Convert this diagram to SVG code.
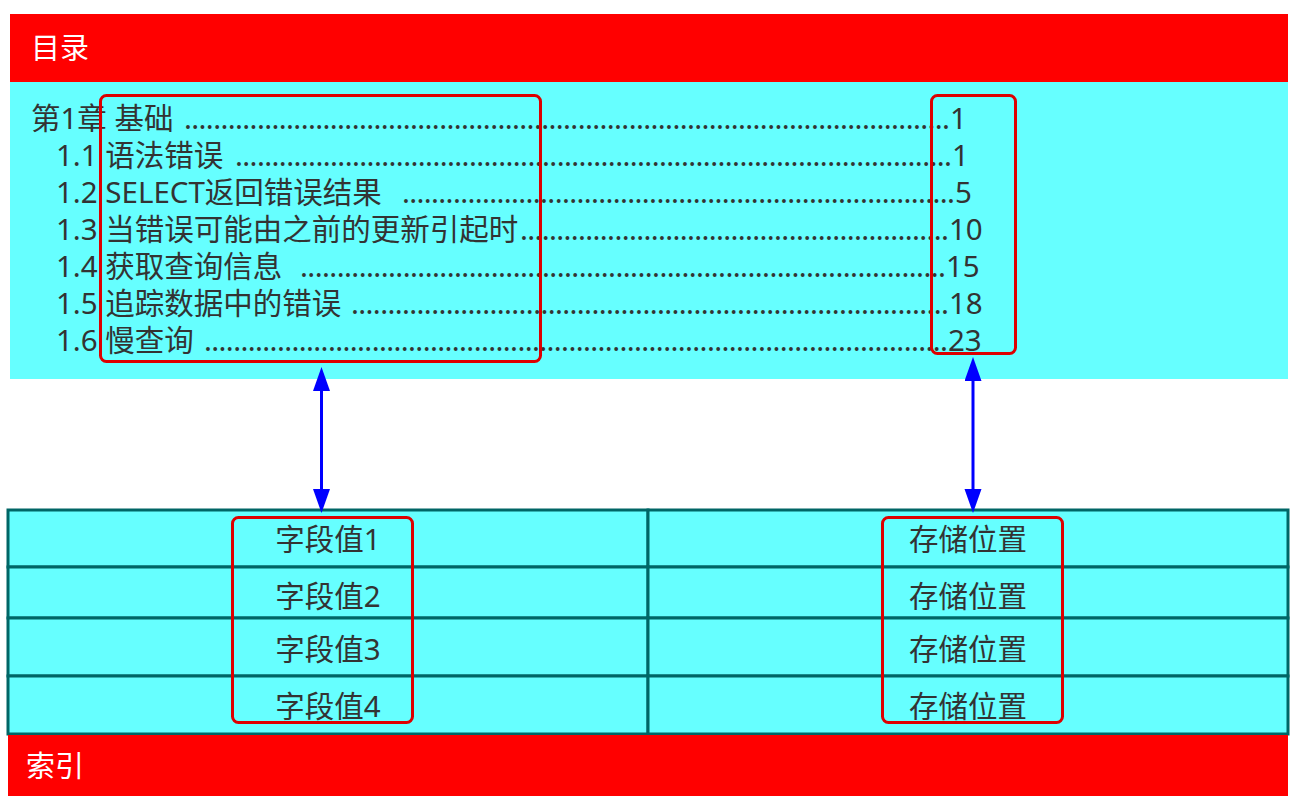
<svg xmlns="http://www.w3.org/2000/svg" width="1296" height="812" viewBox="0 0 1296 812">
<defs>
<style>
.bar{fill:#ff0000}
.panel{fill:#66ffff}
.hd{font-family:"Noto Sans","Noto Sans CJK SC",sans-serif;font-size:29px;fill:#ffffff}
.toc{font-family:"Noto Sans","Noto Sans CJK SC",sans-serif;font-size:29.5px;fill:#333333}
.cell{fill:#66ffff;stroke:#006666;stroke-width:3}
.ct{font-family:"Noto Sans","Noto Sans CJK SC",sans-serif;font-size:29.5px;fill:#333333;text-anchor:middle}
.hl{fill:none;stroke:#dd0000;stroke-width:3}
.arr{stroke:#0000ff;stroke-width:3;fill:none;marker-start:url(#ah);marker-end:url(#ah)}
</style>
<marker id="ah" markerUnits="userSpaceOnUse" markerWidth="26" markerHeight="18" viewBox="0 0 26 18" refX="4" refY="8.5" orient="auto-start-reverse">
<path d="M0,0 L24,8.5 L0,17 z" fill="#0000ff"/>
</marker>
</defs>

<g id="toc-header">
<rect class="bar" x="10" y="14" width="1278" height="68"/>
<text class="hd" x="31" y="59">目录</text>
</g>

<g id="toc-panel">
<rect class="panel" x="10" y="82" width="1278" height="297"/>
<text class="toc" x="31" y="129" xml:space="preserve">第1章 基础</text>
<text class="toc" x="184" y="129" textLength="766" lengthAdjust="spacing">.........................................................................................................</text>
<text class="toc" x="950" y="129">1</text>

<text class="toc" x="56" y="166" xml:space="preserve">1.1 语法错误</text>
<text class="toc" x="235" y="166" textLength="717" lengthAdjust="spacing">..................................................................................................</text>
<text class="toc" x="952" y="166">1</text>

<text class="toc" x="56" y="203" xml:space="preserve">1.2 SELECT返回错误结果</text>
<text class="toc" x="402" y="203" textLength="553" lengthAdjust="spacing">............................................................................</text>
<text class="toc" x="955" y="203">5</text>

<text class="toc" x="56" y="240" xml:space="preserve">1.3 当错误可能由之前的更新引起时</text>
<text class="toc" x="520" y="240" textLength="429" lengthAdjust="spacing">...........................................................</text>
<text class="toc" x="949" y="240">10</text>

<text class="toc" x="56" y="277" xml:space="preserve">1.4 获取查询信息</text>
<text class="toc" x="300" y="277" textLength="646" lengthAdjust="spacing">........................................................................................</text>
<text class="toc" x="946" y="277">15</text>

<text class="toc" x="56" y="314" xml:space="preserve">1.5 追踪数据中的错误</text>
<text class="toc" x="351" y="314" textLength="598" lengthAdjust="spacing">..................................................................................</text>
<text class="toc" x="949" y="314">18</text>

<text class="toc" x="56" y="351" xml:space="preserve">1.6 慢查询</text>
<text class="toc" x="204" y="351" textLength="744" lengthAdjust="spacing">......................................................................................................</text>
<text class="toc" x="948" y="351">23</text>
</g>

<g id="toc-title-highlight">
<rect class="hl" x="100.5" y="95.5" width="440" height="266" rx="6"/>
</g>
<g id="toc-page-highlight">
<rect class="hl" x="931.5" y="95.5" width="84" height="258" rx="6"/>
</g>

<g id="index-table">
<rect class="cell" x="8" y="510" width="640" height="57"/>
<rect class="cell" x="648" y="510" width="640" height="57"/>
<rect class="cell" x="8" y="567" width="640" height="51"/>
<rect class="cell" x="648" y="567" width="640" height="51"/>
<rect class="cell" x="8" y="618" width="640" height="58"/>
<rect class="cell" x="648" y="618" width="640" height="58"/>
<rect class="cell" x="8" y="676" width="640" height="58"/>
<rect class="cell" x="648" y="676" width="640" height="58"/>
<text class="ct" x="328" y="550">字段值1</text>
<text class="ct" x="968" y="550">存储位置</text>
<text class="ct" x="328" y="607">字段值2</text>
<text class="ct" x="968" y="607">存储位置</text>
<text class="ct" x="328" y="660">字段值3</text>
<text class="ct" x="968" y="660">存储位置</text>
<text class="ct" x="328" y="717">字段值4</text>
<text class="ct" x="968" y="717">存储位置</text>
</g>

<g id="field-highlight">
<rect class="hl" x="232.5" y="517.5" width="180" height="205" rx="6"/>
</g>
<g id="location-highlight">
<rect class="hl" x="882.5" y="517.5" width="180" height="205" rx="6"/>
</g>

<g id="index-footer">
<rect class="bar" x="8" y="735" width="1280" height="61"/>
<text class="hd" x="26" y="777">索引</text>
</g>

<g id="connectors">
<line class="arr" x1="321.5" y1="387" x2="321.5" y2="493"/>
<line class="arr" x1="973" y1="377" x2="973" y2="493"/>
</g>
</svg>
